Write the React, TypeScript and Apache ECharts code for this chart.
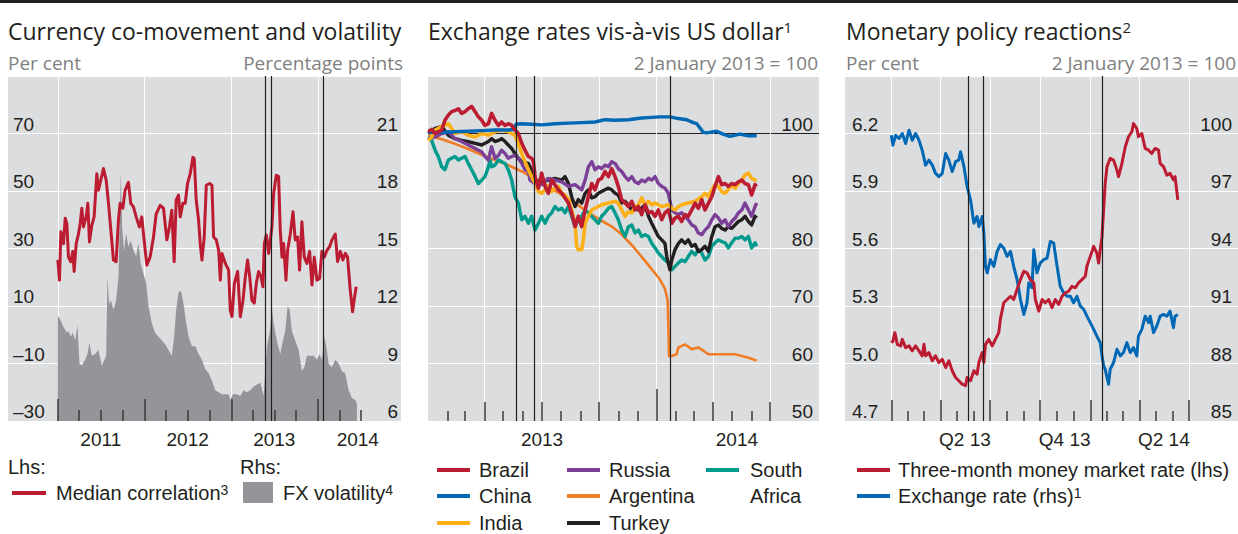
import React, { useEffect, useRef } from 'react';
import * as echarts from 'echarts';

// ---------------- DATA (x = decimal year, y = value) ----------------
// Panel 1: Currency co-movement and volatility
const medianCorrelation: number[][] = [
  [2011.000,26],[2011.019,19],[2011.035,35.8],[2011.065,31.7],[2011.085,40.5],[2011.104,38.7],[2011.123,27],[2011.150,25.4],[2011.173,29],[2011.188,22],[2011.212,31.7],[2011.238,35],[2011.258,38.7],[2011.277,44],[2011.296,37.5],[2011.327,41],[2011.346,45.7],[2011.365,32.3],[2011.392,38],[2011.419,41],[2011.450,56],[2011.469,50.3],[2011.496,53.8],[2011.527,57.8],[2011.558,53.8],[2011.585,45.7],[2011.612,36.4],[2011.642,26],[2011.673,25.4],[2011.700,40],[2011.719,45.7],[2011.750,44],[2011.777,50.3],[2011.815,53],[2011.842,45.7],[2011.873,44.5],[2011.904,41],[2011.942,37.5],[2011.969,41],[2011.996,33],
  [2012.027,24.2],[2012.065,27],[2012.104,34],[2012.135,42],[2012.181,45],[2012.219,44],[2012.258,33],[2012.288,37.5],[2012.315,43.3],[2012.342,25.4],[2012.365,46.8],[2012.392,48.6],[2012.412,41],[2012.442,45.7],[2012.469,45.7],[2012.496,52.6],[2012.527,56],[2012.558,61.7],[2012.573,61.3],[2012.596,46.8],[2012.623,40],[2012.642,31.7],[2012.662,26],[2012.688,34],[2012.712,52],[2012.750,52.6],[2012.777,52],[2012.796,34],[2012.827,33],[2012.854,29.4],[2012.873,19],[2012.892,28.3],[2012.931,24.8],[2012.969,22.5],[2012.988,8.6],
  [2013.008,6.3],[2013.035,17.8],[2013.073,22],[2013.104,6.3],[2013.135,12],[2013.162,20.2],[2013.188,26],[2013.212,20.2],[2013.238,12],[2013.265,11],[2013.288,17.8],[2013.315,22],[2013.342,20.2],[2013.365,16.7],[2013.381,31.7],[2013.404,34.7],[2013.431,28.3],[2013.450,33],[2013.469,37.5],[2013.488,49],[2013.519,55.5],[2013.546,55],[2013.565,36.4],[2013.585,27],[2013.604,31.7],[2013.631,19],[2013.650,29.4],[2013.681,35],[2013.712,42.8],[2013.738,33],[2013.765,34],[2013.788,22.5],[2013.815,39.3],[2013.842,27],[2013.873,24.8],[2013.904,29],[2013.931,17.3],[2013.958,27],[2013.988,19],
  [2014.019,19.6],[2014.046,29],[2014.073,27],[2014.104,29.4],[2014.135,30.6],[2014.162,33],[2014.200,35],[2014.227,25.4],[2014.258,29],[2014.288,26],[2014.315,28.3],[2014.342,27],[2014.373,15.5],[2014.400,8],[2014.423,13.2],[2014.442,16.7]
];
const fxVolatility: number[][] = [
  [2011.000,11.5],[2011.027,11.3],[2011.065,10.9],[2011.104,10.6],[2011.123,10.7],[2011.150,10.4],[2011.173,10.6],[2011.200,10.2],[2011.227,11.0],[2011.250,9.0],[2011.277,8.9],[2011.315,9.2],[2011.342,9.5],[2011.365,10.1],[2011.392,9.4],[2011.431,9.5],[2011.469,9.7],[2011.508,8.9],[2011.558,9.4],[2011.573,13.5],[2011.592,12.1],[2011.612,12.3],[2011.642,11.8],[2011.673,12.3],[2011.700,13.5],[2011.719,17.3],[2011.727,19.0],[2011.742,16.1],[2011.765,14.9],[2011.788,15.8],[2011.815,15.1],[2011.842,15.4],[2011.873,14.9],[2011.904,14.6],[2011.931,15.3],[2011.958,14.2],[2011.988,13.7],
  [2012.019,13.2],[2012.046,12.0],[2012.085,11.1],[2012.123,10.6],[2012.162,10.4],[2012.200,10.2],[2012.238,10.0],[2012.277,9.7],[2012.315,9.4],[2012.342,10.4],[2012.365,11.8],[2012.392,12.7],[2012.419,12.8],[2012.450,12.1],[2012.481,11.1],[2012.508,10.4],[2012.546,9.9],[2012.585,9.9],[2012.623,9.5],[2012.662,9.2],[2012.700,8.7],[2012.738,8.5],[2012.777,8.1],[2012.815,7.6],[2012.854,7.5],[2012.892,7.4],[2012.931,7.4],[2012.969,7.4],[2012.988,7.1],
  [2013.019,7.4],[2013.065,7.4],[2013.104,7.3],[2013.142,7.6],[2013.181,7.5],[2013.219,7.6],[2013.258,7.8],[2013.296,7.9],[2013.335,8.0],[2013.373,7.3],[2013.392,8.7],[2013.412,9.9],[2013.442,10.6],[2013.469,11.9],[2013.488,11.1],[2013.508,10.6],[2013.535,10.0],[2013.565,9.5],[2013.596,10.2],[2013.623,10.7],[2013.650,12.0],[2013.673,11.8],[2013.700,10.7],[2013.738,10.2],[2013.777,9.7],[2013.815,8.6],[2013.842,8.8],[2013.873,9.4],[2013.912,9.4],[2013.950,9.4],[2013.988,9.2],
  [2014.019,9.5],[2014.046,9.2],[2014.073,10.4],[2014.096,9.9],[2014.123,9.0],[2014.162,8.8],[2014.200,9.2],[2014.238,9.0],[2014.277,8.6],[2014.315,8.5],[2014.354,7.6],[2014.392,7.2],[2014.431,7.1],[2014.450,6.9]
];

// Panel 2: Exchange rates vis-a-vis US dollar (2 Jan 2013 = 100)
const brazil: number[][] = [
  [2013.001,100.3],[2013.016,100.7],[2013.031,100],[2013.045,100.3],[2013.060,100.6],[2013.074,102.3],[2013.089,103.2],[2013.103,103.8],[2013.118,104],[2013.133,104.3],[2013.147,103.5],[2013.162,103.8],[2013.176,104.3],[2013.191,104.7],[2013.206,103.8],[2013.220,102.9],[2013.235,102.3],[2013.249,101.4],[2013.264,101.7],[2013.278,103.5],[2013.293,102.3],[2013.308,101.4],[2013.322,102],[2013.337,101.4],[2013.351,101.7],[2013.366,101.4],[2013.380,100.6],[2013.395,100],[2013.410,98.3],[2013.424,97.1],[2013.439,96],[2013.453,95.7],[2013.461,95.1],[2013.468,92.5],[2013.483,90.5],[2013.497,93.1],[2013.512,90.8],[2013.526,89.6],[2013.541,91.9],[2013.555,91.1],[2013.570,90.2],[2013.585,89.6],[2013.599,88.8],[2013.614,87.9],[2013.628,86.2],[2013.643,83.8],[2013.657,85.6],[2013.672,83.8],[2013.687,86.7],[2013.701,89],[2013.716,91.3],[2013.730,90.2],[2013.745,91.9],[2013.759,92.2],[2013.774,93.4],[2013.789,92.5],[2013.803,93.9],[2013.818,92.5],[2013.832,90.8],[2013.847,88.5],[2013.862,87.9],[2013.876,87.3],[2013.891,88.2],[2013.905,86.7],[2013.920,87.3],[2013.934,85.9],[2013.949,87.6],[2013.964,86.2],[2013.978,86.4],[2013.993,85.6],
  [2014.007,86.7],[2014.022,85],[2014.036,86.2],[2014.051,86.7],[2014.066,84.4],[2014.080,85.3],[2014.095,85.6],[2014.109,84.7],[2014.124,85.9],[2014.138,85.6],[2014.153,86.7],[2014.168,87.9],[2014.182,87],[2014.197,88.5],[2014.211,86.7],[2014.226,87.9],[2014.241,89],[2014.255,90.8],[2014.270,92.5],[2014.284,91.1],[2014.299,91.3],[2014.313,90.8],[2014.328,91.3],[2014.343,91.1],[2014.357,91.6],[2014.372,91.9],[2014.386,91.3],[2014.401,91.1],[2014.415,89.3],[2014.430,91.1],[2014.437,90.8]
];
const china: number[][] = [
  [2013.001,100.2],[2013.060,100.2],[2013.118,100.3],[2013.176,100.4],[2013.235,100.5],[2013.293,100.6],[2013.351,100.6],[2013.372,100.7],[2013.385,101.6],[2013.410,101.7],[2013.453,101.6],[2013.497,101.5],[2013.555,101.7],[2013.614,101.8],[2013.672,101.9],[2013.730,102.0],[2013.774,102.4],[2013.818,102.3],[2013.876,102.4],[2013.934,102.7],[2013.978,102.8],
  [2014.014,102.9],[2014.058,102.9],[2014.095,102.6],[2014.131,102.4],[2014.160,101.9],[2014.175,101.7],[2014.204,100.2],[2014.219,100.1],[2014.262,100.4],[2014.290,99.9],[2014.320,99.5],[2014.364,99.9],[2014.400,99.6],[2014.437,99.6]
];
const india: number[][] = [
  [2013.001,98.8],[2013.016,99.4],[2013.031,100.6],[2013.060,101.2],[2013.089,101.7],[2013.103,100.9],[2013.118,100],[2013.147,100.3],[2013.176,99.7],[2013.206,99.4],[2013.235,100],[2013.264,99.7],[2013.293,100.3],[2013.322,100.6],[2013.351,100.3],[2013.380,99.7],[2013.395,98.3],[2013.410,96.5],[2013.424,95.1],[2013.439,93.7],[2013.453,92.5],[2013.468,91.3],[2013.483,89.9],[2013.497,89.6],[2013.512,90.2],[2013.526,90.8],[2013.541,89.9],[2013.555,90.5],[2013.570,90.8],[2013.585,89.6],[2013.599,89.3],[2013.614,88.5],[2013.628,86.7],[2013.643,84.4],[2013.650,80.4],[2013.657,79.8],[2013.672,79.8],[2013.679,81.5],[2013.687,84.4],[2013.701,85.6],[2013.716,86.7],[2013.730,87],[2013.759,87.6],[2013.789,87.9],[2013.818,88.2],[2013.832,87.9],[2013.847,86.7],[2013.862,85.6],[2013.876,86.4],[2013.891,86.2],[2013.905,87.3],[2013.920,87.6],[2013.934,88.8],[2013.949,87.6],[2013.964,88.2],[2013.978,87.6],[2013.993,87.9],
  [2014.022,87.3],[2014.051,87.6],[2014.066,87],[2014.080,86.7],[2014.095,87.3],[2014.109,87.6],[2014.138,87.9],[2014.168,88.2],[2014.197,89],[2014.211,89.6],[2014.226,89],[2014.241,90.2],[2014.255,91.1],[2014.270,90.8],[2014.284,89.9],[2014.299,89.6],[2014.313,90.2],[2014.328,91.1],[2014.343,90.5],[2014.357,91.3],[2014.372,91.9],[2014.386,92.8],[2014.401,93.1],[2014.415,92.2],[2014.430,91.9],[2014.437,91.9]
];
const russia: number[][] = [
  [2013.001,99.1],[2013.031,99.4],[2013.060,100],[2013.089,100.3],[2013.118,99.1],[2013.147,98.6],[2013.176,98],[2013.206,97.4],[2013.235,96.8],[2013.249,96],[2013.264,95.4],[2013.278,97.7],[2013.293,95.7],[2013.308,96.2],[2013.322,97.1],[2013.337,96.5],[2013.351,95.7],[2013.366,96],[2013.380,96.2],[2013.395,95.7],[2013.410,94.8],[2013.424,93.7],[2013.439,93.4],[2013.446,91.9],[2013.468,91.3],[2013.497,91.1],[2013.526,92.2],[2013.555,91.9],[2013.585,91.6],[2013.614,90.8],[2013.643,91.1],[2013.672,90.2],[2013.687,91.9],[2013.701,94.2],[2013.716,95.1],[2013.730,93.7],[2013.745,94.2],[2013.759,93.9],[2013.774,94.5],[2013.789,94.2],[2013.803,95.1],[2013.818,94.8],[2013.832,93.9],[2013.847,93.4],[2013.862,92.5],[2013.876,91.9],[2013.891,92.5],[2013.905,91.6],[2013.920,91.3],[2013.934,91.9],[2013.949,91.6],[2013.964,92.2],[2013.978,91.9],[2013.993,92.5],
  [2014.007,91.3],[2014.022,90.8],[2014.036,90.5],[2014.051,89.6],[2014.066,86.7],[2014.080,86.2],[2014.095,85.9],[2014.109,86.2],[2014.124,85.6],[2014.138,85],[2014.153,84.1],[2014.168,83.8],[2014.182,82.7],[2014.197,82.4],[2014.211,83.2],[2014.226,83.8],[2014.241,85],[2014.255,85.9],[2014.270,85.3],[2014.284,84.4],[2014.299,85],[2014.313,83.8],[2014.328,84.7],[2014.343,85.3],[2014.357,86.2],[2014.372,86.7],[2014.386,87.9],[2014.401,86.7],[2014.415,85.6],[2014.430,87.3],[2014.437,87.9]
];
const argentina: number[][] = [
  [2013.001,99.7],[2013.060,99.0],[2013.118,98.2],[2013.176,97.3],[2013.235,96.3],[2013.293,95.4],[2013.351,94.5],[2013.410,93.4],[2013.468,92.1],[2013.526,90.8],[2013.585,89.3],[2013.643,87.9],[2013.701,86.3],[2013.752,85],[2013.800,83.9],[2013.840,82.7],[2013.898,80.3],[2013.956,77.5],
  [2014.014,74.6],[2014.036,73],[2014.048,71],[2014.054,61.3],[2014.066,61.3],[2014.087,61.6],[2014.095,62.8],[2014.124,63.3],[2014.153,62.5],[2014.182,62.8],[2014.226,61.6],[2014.284,61.6],[2014.343,61.6],[2014.372,61.3],[2014.401,61],[2014.437,60.5]
];
const turkey: number[][] = [
  [2013.001,100],[2013.031,100.9],[2013.060,101.2],[2013.089,99.7],[2013.118,99.1],[2013.147,98.8],[2013.176,98.6],[2013.206,98.3],[2013.235,98],[2013.264,98.6],[2013.278,99.1],[2013.293,98.6],[2013.308,98.8],[2013.322,99.1],[2013.337,98.6],[2013.351,98],[2013.366,97.4],[2013.380,96.5],[2013.395,95.7],[2013.410,95.1],[2013.439,94.8],[2013.453,93.7],[2013.468,91.9],[2013.497,91.6],[2013.526,91.9],[2013.555,92.2],[2013.585,91.9],[2013.599,92.5],[2013.614,91.3],[2013.628,89],[2013.643,87.3],[2013.657,88.5],[2013.672,87.9],[2013.687,89.6],[2013.701,90.2],[2013.716,88.8],[2013.730,89],[2013.745,89.6],[2013.759,89.9],[2013.774,90.2],[2013.789,90.5],[2013.803,90.2],[2013.818,89.6],[2013.832,89.3],[2013.847,87.9],[2013.862,88.2],[2013.876,87.6],[2013.891,86.7],[2013.905,87.3],[2013.920,86.7],[2013.934,87],[2013.949,87.6],[2013.964,85.6],[2013.978,84.4],[2013.993,83.2],
  [2014.007,82.1],[2014.022,81.5],[2014.036,80.9],[2014.044,78.6],[2014.058,76.3],[2014.066,78],[2014.080,79.8],[2014.095,80.9],[2014.109,81.5],[2014.124,80.9],[2014.138,81.5],[2014.153,80.4],[2014.168,80.7],[2014.182,79.5],[2014.197,79.8],[2014.211,80.4],[2014.226,79.5],[2014.241,82.1],[2014.255,83.8],[2014.270,84.1],[2014.284,83.5],[2014.299,83.2],[2014.313,83.8],[2014.328,83.5],[2014.343,84.1],[2014.357,84.7],[2014.372,85],[2014.386,85.6],[2014.401,84.7],[2014.415,84.1],[2014.430,85.6],[2014.437,85.3]
];
const southAfrica: number[][] = [
  [2013.001,99.4],[2013.016,98.8],[2013.031,97.1],[2013.045,96],[2013.060,94.2],[2013.074,93.7],[2013.089,95.4],[2013.103,95.7],[2013.118,96],[2013.133,95.4],[2013.147,95.7],[2013.162,96],[2013.176,94.8],[2013.191,93.7],[2013.206,92.5],[2013.220,91.3],[2013.235,91.9],[2013.249,92.5],[2013.264,94.2],[2013.271,95.4],[2013.278,94.2],[2013.293,94.5],[2013.308,95.4],[2013.322,95.1],[2013.337,94.8],[2013.351,93.7],[2013.366,91.9],[2013.380,89],[2013.395,87.9],[2013.410,85],[2013.424,85.6],[2013.439,84.4],[2013.453,85.6],[2013.468,83.2],[2013.483,84.4],[2013.497,85.6],[2013.512,84.4],[2013.526,85.6],[2013.541,86.2],[2013.555,87.3],[2013.570,86.7],[2013.585,87],[2013.599,86.2],[2013.614,87.3],[2013.628,85.6],[2013.643,83.8],[2013.657,85],[2013.672,85.6],[2013.687,86.7],[2013.701,86.2],[2013.716,85.6],[2013.730,85],[2013.745,84.4],[2013.759,85.6],[2013.774,86.2],[2013.789,87],[2013.803,87.3],[2013.818,86.2],[2013.832,85],[2013.847,83.2],[2013.862,82.1],[2013.876,83.8],[2013.891,84.1],[2013.905,82.7],[2013.920,83.2],[2013.934,82.1],[2013.949,82.4],[2013.964,82.1],[2013.978,80.9],[2013.993,80.1],
  [2014.007,79.2],[2014.022,78.6],[2014.036,78],[2014.051,77.5],[2014.066,76.3],[2014.080,76.9],[2014.095,77.5],[2014.109,78],[2014.124,77.7],[2014.138,78.6],[2014.153,79.5],[2014.168,78.9],[2014.182,79.8],[2014.197,79.2],[2014.211,78],[2014.226,78.6],[2014.241,80.4],[2014.255,81],[2014.270,81.5],[2014.284,81.2],[2014.299,81],[2014.313,80.1],[2014.328,81],[2014.343,81.8],[2014.357,81.8],[2014.372,82.1],[2014.386,81.5],[2014.401,82.1],[2014.415,80.1],[2014.430,81],[2014.437,80.4]
];

// Panel 3: Monetary policy reactions
const moneyMarketRate: number[][] = [
  [2013.000,5.109],[2013.008,5.117],[2013.018,5.161],[2013.030,5.100],[2013.047,5.092],[2013.055,5.126],[2013.072,5.083],[2013.089,5.092],[2013.105,5.066],[2013.122,5.092],[2013.139,5.066],[2013.155,5.040],[2013.164,5.100],[2013.172,5.040],[2013.189,5.057],[2013.206,5.014],[2013.222,5.040],[2013.239,5.005],[2013.256,5.022],[2013.273,4.979],[2013.289,5.014],[2013.306,4.962],[2013.323,4.927],[2013.339,4.910],[2013.356,4.892],[2013.373,4.884],[2013.381,4.927],[2013.398,4.910],[2013.415,4.962],[2013.431,4.944],[2013.440,5.005],[2013.457,5.057],[2013.465,5.005],[2013.473,5.100],[2013.490,5.126],[2013.507,5.092],[2013.523,5.126],[2013.540,5.161],[2013.548,5.230],[2013.565,5.317],[2013.582,5.334],[2013.599,5.351],[2013.615,5.334],[2013.632,5.386],[2013.649,5.438],[2013.666,5.481],[2013.682,5.473],[2013.699,5.438],[2013.716,5.421],[2013.724,5.334],[2013.741,5.273],[2013.758,5.334],[2013.774,5.317],[2013.791,5.334],[2013.808,5.291],[2013.824,5.334],[2013.841,5.308],[2013.858,5.351],[2013.875,5.369],[2013.891,5.377],[2013.908,5.403],[2013.925,5.395],[2013.941,5.421],[2013.958,5.438],[2013.975,5.455],[2013.983,5.507],
  [2014.000,5.559],[2014.017,5.611],[2014.033,5.576],[2014.042,5.524],[2014.050,5.594],[2014.059,5.663],[2014.067,5.802],[2014.075,5.940],[2014.084,6.027],[2014.100,6.070],[2014.117,6.061],[2014.134,6.009],[2014.142,5.975],[2014.159,6.044],[2014.176,6.131],[2014.192,6.183],[2014.209,6.209],[2014.217,6.252],[2014.234,6.226],[2014.242,6.183],[2014.259,6.200],[2014.276,6.122],[2014.293,6.113],[2014.309,6.096],[2014.326,6.122],[2014.343,6.113],[2014.351,6.044],[2014.368,6.027],[2014.385,5.983],[2014.401,5.992],[2014.418,5.958],[2014.426,5.975],[2014.440,5.854]
];
const exchangeRate: number[][] = [
  [2013.000,99.91],[2013.008,99.39],[2013.022,99.91],[2013.039,99.74],[2013.055,100],[2013.072,99.48],[2013.089,100.17],[2013.105,99.65],[2013.122,100],[2013.139,99.65],[2013.155,99.13],[2013.172,98.35],[2013.189,98.61],[2013.206,98.35],[2013.222,97.92],[2013.239,97.75],[2013.256,97.92],[2013.273,98.96],[2013.289,98.61],[2013.306,98.01],[2013.323,98.53],[2013.339,98.61],[2013.348,99.05],[2013.365,98.27],[2013.381,97.23],[2013.398,96.54],[2013.415,95.32],[2013.431,95.67],[2013.440,95.15],[2013.457,95.67],[2013.465,94.80],[2013.473,93.07],[2013.482,92.73],[2013.498,93.42],[2013.515,93.07],[2013.532,93.85],[2013.548,94.20],[2013.565,94.02],[2013.582,93.59],[2013.599,93.85],[2013.615,93.07],[2013.632,92.38],[2013.649,91.34],[2013.666,90.56],[2013.682,91.17],[2013.691,92.21],[2013.707,91.95],[2013.716,93.94],[2013.732,92.73],[2013.749,93.25],[2013.766,93.42],[2013.783,93.50],[2013.799,94.37],[2013.816,94.28],[2013.833,93.07],[2013.849,92.03],[2013.866,91.69],[2013.883,91.51],[2013.900,91.51],[2013.916,91.17],[2013.933,91.51],[2013.950,90.99],[2013.967,90.82],[2013.983,90.47],
  [2014.000,90.13],[2014.017,89.78],[2014.033,89.43],[2014.050,89.09],[2014.059,88.40],[2014.067,87.88],[2014.075,87.70],[2014.084,87.27],[2014.092,86.92],[2014.100,87.70],[2014.117,88.05],[2014.134,88.74],[2014.151,88.40],[2014.167,88.57],[2014.184,89.09],[2014.201,88.57],[2014.217,88.83],[2014.234,88.40],[2014.242,89.43],[2014.259,89.78],[2014.276,90.47],[2014.293,90.13],[2014.301,90.47],[2014.318,89.61],[2014.334,89.95],[2014.351,90.47],[2014.368,90.56],[2014.385,90.47],[2014.401,90.73],[2014.418,89.87],[2014.426,90.47],[2014.440,90.56]
];

// Event dates (vertical black lines)
const eventDates = ['2013-05-22', '2013-06-19', '2014-01-23'];

// Axis tick labels (category date -> label)
const p1XLabels: Record<string, string> = { '2011-07-01': '2011', '2012-07-01': '2012', '2013-07-01': '2013', '2014-06-18': '2014' };
const p2XLabels: Record<string, string> = { '2013-07-02': '2013', '2014-05-09': '2014' };
const p3XLabels: Record<string, string> = { '2013-05-16': 'Q2 13', '2013-11-15': 'Q4 13', '2014-05-16': 'Q2 14' };

// Legend texts
const p2Legend = [
  { name: 'Brazil', color: '#bc1c32', col: 0, row: 0 },
  { name: 'China', color: '#0068b4', col: 0, row: 1 },
  { name: 'India', color: '#fbb018', col: 0, row: 2 },
  { name: 'Russia', color: '#7b3f98', col: 1, row: 0 },
  { name: 'Argentina', color: '#f07d26', col: 1, row: 1 },
  { name: 'Turkey', color: '#231f20', col: 1, row: 2 },
  { name: 'South', color: '#009b8c', col: 2, row: 0 },
];

// ---------------- helpers ----------------
const DAY = 86400000;
const INK = '#231f20';
const SUB = '#808080';
const BG = '#dcddde';
const TICK = '#3a3a3a';
const SANS = '"Liberation Sans", Arial, sans-serif';
const TITLEF = '"Open Sans", "Liberation Sans", sans-serif';
const RED = '#bc1c32';
const BLUE = '#0068b4';
const LEG = 20;

const isoMs = (s: string) => Date.parse(s + 'T00:00:00Z');
const yrMs = (y: number) => {
  const yi = Math.floor(y);
  const a = Date.UTC(yi, 0, 1);
  const b = Date.UTC(yi + 1, 0, 1);
  return a + (y - yi) * (b - a);
};
const pts = (arr: number[][]) => arr.map(([y, v]) => [yrMs(y), v]);
const dayList = (a: string, b: string) => {
  const out: string[] = [];
  for (let t = isoMs(a); t <= isoMs(b); t += DAY) out.push(new Date(t).toISOString().slice(0, 10));
  return out;
};
const monthStarts = (from: string, to: string, months: number[]) => {
  const out: string[] = [];
  const [fy, fm] = from.split('-').map(Number);
  const [ty, tm] = to.split('-').map(Number);
  for (let y = fy; y <= ty; y++) {
    for (let m = 1; m <= 12; m++) {
      if (y === fy && m < fm) continue;
      if (y === ty && m > tm) continue;
      if (months.includes(m)) out.push(`${y}-${String(m).padStart(2, '0')}-01`);
    }
  }
  return new Set(out);
};

function catAxis(gridIndex: number, data: string[], o: any) {
  return {
    type: 'category', gridIndex, data, boundaryGap: false, position: 'bottom', z: o.z ?? 0,
    axisLine: { show: false },
    axisTick: o.ticks
      ? { show: true, inside: true, length: o.len, interval: (_i: number, v: string) => o.ticks.has(v), lineStyle: { color: TICK, width: 1.5 } }
      : { show: false },
    axisLabel: o.labels
      ? { show: true, interval: (_i: number, v: string) => v in o.labels, formatter: (v: string) => o.labels[v] ?? '', color: INK, fontFamily: SANS, fontSize: 19, margin: 9 }
      : { show: false },
    splitLine: o.split
      ? { show: true, interval: (_i: number, v: string) => o.split.has(v), lineStyle: { color: o.splitColor, width: o.splitWidth ?? 1 } }
      : { show: false },
  };
}

function yAx(gridIndex: number, pos: string, min: number, max: number, interval: number, margin: number, split: any, fmt?: (v: number) => string) {
  return {
    type: 'value', gridIndex, position: pos, min, max, interval,
    axisLine: { show: false }, axisTick: { show: false },
    axisLabel: {
      inside: true, margin, color: INK, fontFamily: SANS, fontSize: 19, showMaxLabel: false,
      align: pos === 'left' ? 'left' : 'right', verticalAlign: 'bottom',
      formatter: fmt ?? ((v: number) => String(v).replace('-', '\u2013')),
    },
    splitLine: split ? { show: true, lineStyle: split } : { show: false },
  };
}

function buildOption() {
  const P = [
    { start: '2010-06-05', end: '2014-12-17', left: 8, width: 393 },
    { start: '2013-01-01', end: '2014-09-17', left: 428, width: 391 },
    { start: '2012-10-08', end: '2014-09-29', left: 845, width: 393 },
  ];
  const grids = P.map((p) => ({ left: p.left, width: p.width, top: 76, height: 345, show: true, backgroundColor: BG, borderWidth: 0 }));
  const days = P.map((p) => dayList(p.start, p.end));
  const events = new Set(eventDates);

  const xAxis: any[] = [];
  const valX = (g: number) => {
    xAxis.push({ type: 'value', gridIndex: g, min: isoMs(P[g].start), max: isoMs(P[g].end), show: false });
    return xAxis.length - 1;
  };
  // Panel 1
  const x0 = valX(0);
  xAxis.push(catAxis(0, days[0], { labels: p1XLabels, split: monthStarts('2011-01', '2014-01', [1]), splitColor: '#ffffff' }));
  xAxis.push(catAxis(0, days[0], { ticks: monthStarts('2011-04', '2014-07', [4, 7, 10]), len: 11, z: 5 }));
  xAxis.push(catAxis(0, days[0], { ticks: monthStarts('2011-01', '2014-01', [1]), len: 22, split: events, splitColor: INK, splitWidth: 1.2, z: 5 }));
  // Panel 2
  const x1 = valX(1);
  xAxis.push(catAxis(1, days[1], { labels: p2XLabels, split: monthStarts('2013-04', '2014-07', [1, 4, 7, 10]), splitColor: '#ffffff' }));
  xAxis.push(catAxis(1, days[1], { ticks: monthStarts('2013-02', '2014-06', [2, 3, 5, 6, 8, 9, 11, 12]), len: 10, z: 5 }));
  xAxis.push(catAxis(1, days[1], { ticks: monthStarts('2013-04', '2014-07', [4, 7, 10]), len: 19, z: 5 }));
  xAxis.push(catAxis(1, days[1], { ticks: monthStarts('2014-01', '2014-01', [1]), len: 32, split: events, splitColor: INK, splitWidth: 1.2, z: 5 }));
  // Panel 3
  const x2 = valX(2);
  xAxis.push(catAxis(2, days[2], { labels: p3XLabels, split: monthStarts('2013-01', '2014-07', [1, 4, 7, 10]), splitColor: '#ffffff' }));
  xAxis.push(catAxis(2, days[2], { ticks: monthStarts('2013-02', '2014-06', [2, 3, 5, 6, 8, 9, 11, 12]), len: 10, z: 5 }));
  xAxis.push(catAxis(2, days[2], { ticks: monthStarts('2013-01', '2014-07', [1, 4, 7, 10]), len: 21, split: events, splitColor: INK, splitWidth: 1.2, z: 5 }));

  const white = { color: '#ffffff', width: 1 };
  const yAxis = [
    yAx(0, 'left', -30, 90, 20, 5, white),
    yAx(0, 'right', 6, 24, 3, 3, null),
    yAx(1, 'right', 50, 110, 10, 6, { color: ['#ffffff', '#ffffff', '#ffffff', '#ffffff', '#ffffff', INK, '#ffffff'], width: 1.2 }),
    yAx(2, 'left', 4.7, 6.5, 0.3, 7, white, (v: number) => v.toFixed(1)),
    yAx(2, 'right', 85, 103, 3, 6, null),
  ];

  const line = (data: number[][], xi: number, yi: number, color: string, width: number, z = 3) => ({
    type: 'line', xAxisIndex: xi, yAxisIndex: yi, data: pts(data), symbol: 'none', showSymbol: false,
    lineStyle: { color, width, join: 'round' }, itemStyle: { color }, z, silent: true,
  });

  const series: any[] = [
    {
      type: 'line', xAxisIndex: x0, yAxisIndex: 1, data: pts(fxVolatility), symbol: 'none', showSymbol: false,
      lineStyle: { width: 0, color: '#939598' }, areaStyle: { color: '#939598', opacity: 1 }, z: 2, silent: true,
    },
    line(medianCorrelation, x0, 0, RED, 3),
    line(argentina, x1, 2, '#f07d26', 2.6),
    line(southAfrica, x1, 2, '#009b8c', 3.4),
    line(turkey, x1, 2, INK, 3.4),
    line(russia, x1, 2, '#7b3f98', 3.4),
    line(india, x1, 2, '#fbb018', 3.6),
    line(china, x1, 2, BLUE, 3.4),
    line(brazil, x1, 2, RED, 3.6),
    line(exchangeRate, x2, 4, BLUE, 3),
    line(moneyMarketRate, x2, 3, RED, 3),
  ];

  const txt = (x: number, y: number, text: string, o: any = {}) => ({
    type: 'text', x, y, silent: true,
    style: {
      text, fill: o.fill ?? INK, fontSize: o.size ?? LEG, fontFamily: o.font ?? SANS,
      textAlign: o.align ?? 'left', textVerticalAlign: 'middle',
      rich: {
        sup: { fontSize: o.supSize ?? 14, fontFamily: o.font ?? SANS, fill: o.fill ?? INK, verticalAlign: 'top', lineHeight: o.supLH ?? 14 },
      },
    },
  });
  const rect = (x: number, y: number, w: number, h: number, fill: string) => ({
    type: 'rect', silent: true, shape: { x, y, width: w, height: h }, style: { fill },
  });

  const graphic: any[] = [
    rect(0, 0, 1238, 3, INK),
    txt(8, 31, 'Currency co-movement and volatility', { size: 23, font: TITLEF }),
    txt(428, 31, 'Exchange rates vis-\u00e0-vis US dollar{sup|1}', { size: 23, font: TITLEF, supSize: 15 }),
    txt(846, 31, 'Monetary policy reactions{sup|2}', { size: 23, font: TITLEF, supSize: 15 }),
    txt(8, 63, 'Per cent', { size: 19, font: TITLEF, fill: SUB }),
    txt(403, 63, 'Percentage points', { size: 19, font: TITLEF, fill: SUB, align: 'right' }),
    txt(818, 63, '2 January 2013 = 100', { size: 19, font: TITLEF, fill: SUB, align: 'right' }),
    txt(846, 63, 'Per cent', { size: 19, font: TITLEF, fill: SUB }),
    txt(1236, 63, '2 January 2013 = 100', { size: 19, font: TITLEF, fill: SUB, align: 'right' }),
    // Panel 1 legend
    txt(8, 467, 'Lhs:'),
    txt(240, 467, 'Rhs:'),
    rect(12, 491, 34, 4, RED),
    txt(56, 493, 'Median correlation{sup|3}'),
    rect(243, 482, 30, 21, '#939598'),
    txt(283, 493, 'FX volatility{sup|4}'),
    // Panel 3 legend
    rect(857, 468, 33, 4, RED),
    txt(898, 470, 'Three-month money market rate (lhs)'),
    rect(857, 494, 33, 4, BLUE),
    txt(898, 496, 'Exchange rate (rhs){sup|1}'),
  ];
  const rows = [470, 496, 523];
  const colMark = [437, 567, 706];
  const colText = [479, 609, 750];
  p2Legend.forEach((e) => {
    graphic.push(rect(colMark[e.col], rows[e.row] - 2, 33, 4, e.color));
    graphic.push(txt(colText[e.col], rows[e.row], e.name));
  });
  graphic.push(txt(colText[2], rows[1], 'Africa'));

  return { animation: false, backgroundColor: '#ffffff', grid: grids, xAxis, yAxis, series, graphic };
}

export default function App() {
  const ref = useRef<HTMLDivElement>(null);
  useEffect(() => {
    if (!ref.current) return;
    const chart = echarts.init(ref.current, undefined, { renderer: 'svg' });
    chart.setOption(buildOption() as any);
    return () => chart.dispose();
  }, []);
  return <div ref={ref} style={{ position: 'fixed', left: 0, top: 0, width: 1238, height: 534 }} />;
}
